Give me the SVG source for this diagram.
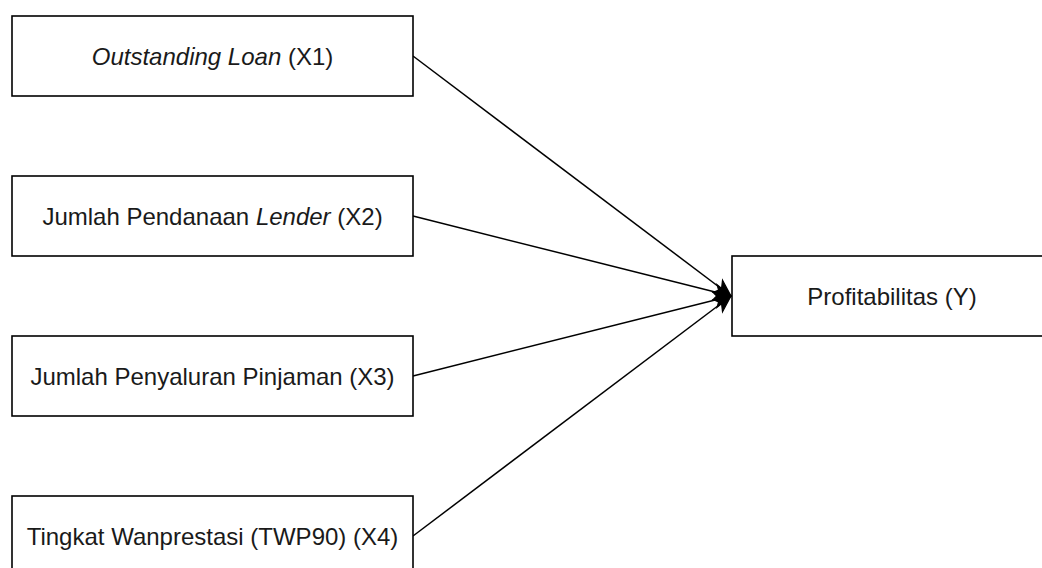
<svg xmlns="http://www.w3.org/2000/svg" width="1042" height="568" viewBox="0 0 1042 568">
<style>
.box{fill:#fff;stroke:#000;stroke-width:1.6}
.t{font-family:"Liberation Sans",Arial,sans-serif;font-size:24px;fill:#1a1a1a;text-anchor:middle;dominant-baseline:central}
.i{font-style:italic}
.c{fill:none;stroke:#000;stroke-width:1.5}
</style>
<defs>
<marker id="arr" markerUnits="userSpaceOnUse" markerWidth="20" markerHeight="20" viewBox="-15 -8 16 16" refX="0" refY="0" orient="auto">
<path d="M0,0 L-13,-6 L-9.5,0 L-13,6 Z" fill="#000" stroke="#000" stroke-width="1"/>
</marker>
</defs>
<rect width="1042" height="568" fill="#fff"/>
<g id="connectors">
<line class="c" x1="413" y1="56" x2="731" y2="296" marker-end="url(#arr)"/>
<line class="c" x1="413" y1="216" x2="731" y2="296" marker-end="url(#arr)"/>
<line class="c" x1="413" y1="376" x2="731" y2="296" marker-end="url(#arr)"/>
<line class="c" x1="413" y1="536" x2="731" y2="296" marker-end="url(#arr)"/>
</g>
<g id="x1">
<rect class="box" x="12" y="16" width="401" height="80"/>
<text class="t" x="212.5" y="56"><tspan class="i">Outstanding Loan</tspan> (X1)</text>
</g>
<g id="x2">
<rect class="box" x="12" y="176" width="401" height="80"/>
<text class="t" x="212.5" y="216">Jumlah Pendanaan <tspan class="i">Lender</tspan> (X2)</text>
</g>
<g id="x3">
<rect class="box" x="12" y="336" width="401" height="80"/>
<text class="t" x="212.5" y="376">Jumlah Penyaluran Pinjaman (X3)</text>
</g>
<g id="x4">
<rect class="box" x="12" y="496" width="401" height="80"/>
<text class="t" x="212.5" y="536">Tingkat Wanprestasi (TWP90) (X4)</text>
</g>
<g id="y">
<rect class="box" x="732" y="256" width="320" height="80"/>
<text class="t" x="892" y="296">Profitabilitas (Y)</text>
</g>
</svg>
